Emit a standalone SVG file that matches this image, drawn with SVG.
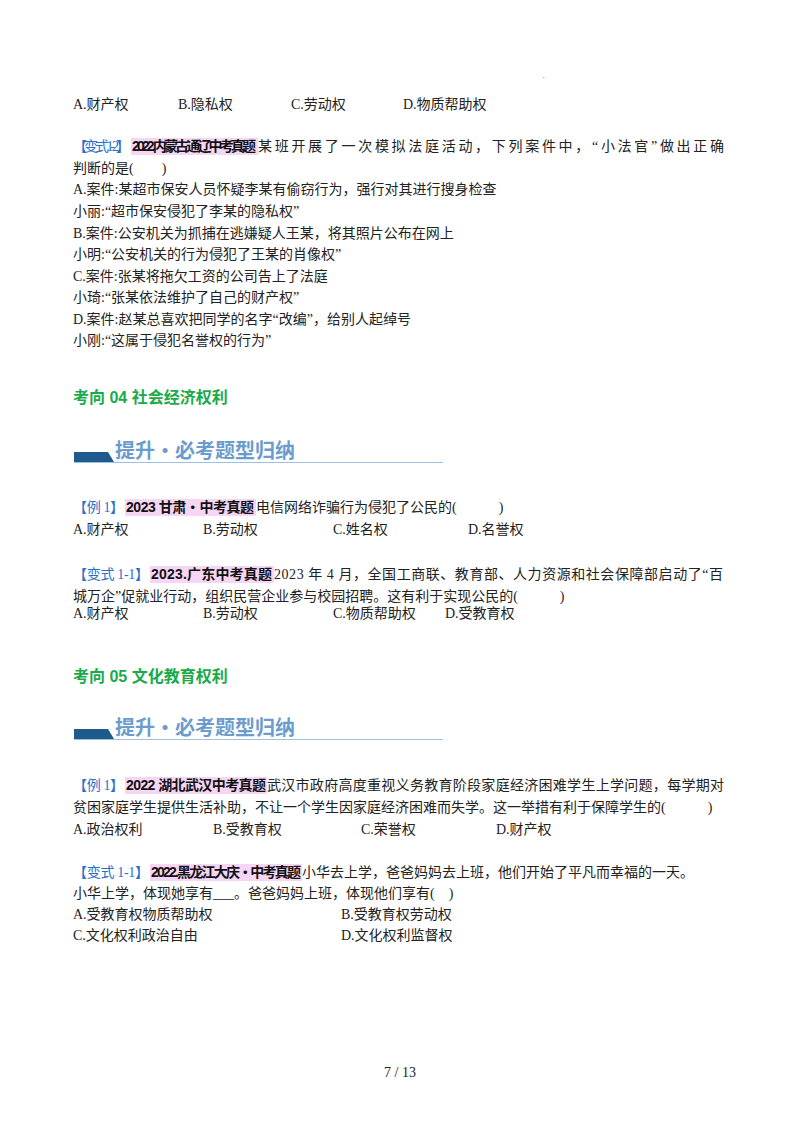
<svg xmlns="http://www.w3.org/2000/svg" width="800" height="1132" viewBox="0 0 800 1132">
<style>
text{font-family:"Liberation Serif","Noto Sans CJK SC",serif;font-size:14px;fill:#222}
.b{fill:#2a6fc9}
.s{font-family:"Liberation Sans","Noto Sans CJK SC",sans-serif;font-weight:bold;fill:#111}
.h{font-family:"Liberation Sans","Noto Sans CJK SC",sans-serif;font-weight:bold;font-size:16px;fill:#1aaa4a}
.bn{font-family:"Noto Sans CJK SC",sans-serif;font-weight:bold;font-size:20px;fill:#6b9ccc}
.hl{fill:#f6d6f4}
</style>
<rect width="800" height="1132" fill="#fff"/>
<text x="543" y="78" style="font-size:6px">.</text>
<g id="q0">
<text x="73" y="109">A.财产权</text><text x="178" y="109">B.隐私权</text><text x="291" y="109">C.劳动权</text><text x="403" y="109">D.物质帮助权</text>
</g>
<g id="q1">
<rect class="hl" x="131" y="138" width="127" height="17"/>
<text x="73" y="151"><tspan class="b" textLength="57">【变式 1-2】</tspan><tspan x="132" class="s" textLength="124">2022.内蒙古通辽中考真题</tspan><tspan x="258" textLength="466">某班开展了一次模拟法庭活动，下列案件中，“小法官”做出正确</tspan></text>
<text x="73" y="173">判断的是(　　)</text>
<text x="73" y="194">A.案件:某超市保安人员怀疑李某有偷窃行为，强行对其进行搜身检查</text>
<text x="73" y="216">小丽:“超市保安侵犯了李某的隐私权”</text>
<text x="73" y="238">B.案件:公安机关为抓捕在逃嫌疑人王某，将其照片公布在网上</text>
<text x="73" y="259">小明:“公安机关的行为侵犯了王某的肖像权”</text>
<text x="73" y="281">C.案件:张某将拖欠工资的公司告上了法庭</text>
<text x="73" y="302">小琦:“张某依法维护了自己的财产权”</text>
<text x="73" y="324">D.案件:赵某总喜欢把同学的名字“改编”，给别人起绰号</text>
<text x="73" y="345">小刚:“这属于侵犯名誉权的行为”</text>
</g>
<g id="h04"><text class="h" x="73" y="403">考向 04  社会经济权利</text></g>
<g id="ban1">
<polygon points="74,452 108,452 114,462 74,462" fill="#1f5a8c"/>
<line x1="74" y1="462.5" x2="443" y2="462.5" stroke="#9fc0e0" stroke-width="1"/>
<text class="bn" x="115" y="458">提升·必考题型归纳</text>
</g>
<g id="q2">
<rect class="hl" x="125" y="499" width="131" height="17"/>
<text x="73" y="512"><tspan class="b" textLength="51">【例 1】</tspan><tspan x="126" class="s" textLength="128">2023 甘肃・中考真题</tspan><tspan x="256">电信网络诈骗行为侵犯了公民的(　　　)</tspan></text>
<text x="73" y="534">A.财产权</text><text x="203" y="534">B.劳动权</text><text x="333" y="534">C.姓名权</text><text x="468" y="534">D.名誉权</text>
</g>
<g id="q3">
<rect class="hl" x="150" y="566" width="124" height="17"/>
<text x="73" y="579"><tspan class="b" textLength="76">【变式 1-1】</tspan><tspan x="151" class="s" textLength="121">2023.广东中考真题</tspan><tspan x="274" textLength="449">2023 年 4 月，全国工商联、教育部、人力资源和社会保障部启动了“百</tspan></text>
<text x="73" y="601">城万企”促就业行动，组织民营企业参与校园招聘。这有利于实现公民的(　　　)</text>
<text x="73" y="618">A.财产权</text><text x="203" y="618">B.劳动权</text><text x="333" y="618">C.物质帮助权</text><text x="445" y="618">D.受教育权</text>
</g>
<g id="h05"><text class="h" x="73" y="682">考向 05  文化教育权利</text></g>
<g id="ban2">
<polygon points="74,729 108,729 114,739 74,739" fill="#1f5a8c"/>
<line x1="74" y1="739.5" x2="443" y2="739.5" stroke="#9fc0e0" stroke-width="1"/>
<text class="bn" x="115" y="735">提升·必考题型归纳</text>
</g>
<g id="q4">
<rect class="hl" x="125" y="777" width="142" height="17"/>
<text x="73" y="790"><tspan class="b" textLength="51">【例 1】</tspan><tspan x="126" class="s" textLength="140">2022 湖北武汉中考真题</tspan><tspan x="267" textLength="457">武汉市政府高度重视义务教育阶段家庭经济困难学生上学问题，每学期对</tspan></text>
<text x="73" y="812">贫困家庭学生提供生活补助，不让一个学生因家庭经济困难而失学。这一举措有利于保障学生的(　　　)</text>
<text x="73" y="834">A.政治权利</text><text x="213" y="834">B.受教育权</text><text x="361" y="834">C.荣誉权</text><text x="496" y="834">D.财产权</text>
</g>
<g id="q5">
<rect class="hl" x="150" y="864" width="152" height="17"/>
<text x="73" y="877"><tspan class="b" textLength="76">【变式 1-1】</tspan><tspan x="151" class="s" textLength="150">2022.黑龙江大庆・中考真题</tspan><tspan x="302">小华去上学，爸爸妈妈去上班，他们开始了平凡而幸福的一天。</tspan></text>
<text x="73" y="898">小华上学，体现她享有___。爸爸妈妈上班，体现他们享有(　)</text>
<text x="73" y="919">A.受教育权物质帮助权</text><text x="341" y="919">B.受教育权劳动权</text>
<text x="73" y="940">C.文化权利政治自由</text><text x="341" y="940">D.文化权利监督权</text>
</g>
<text x="400" y="1077" text-anchor="middle">7 / 13</text>
</svg>
